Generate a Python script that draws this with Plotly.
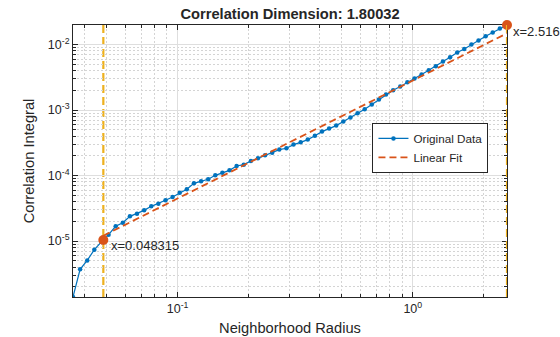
import numpy as np
import plotly.graph_objects as go

# ---- data ----
radius = [0.03590, 0.03849, 0.04127, 0.04424, 0.04743, 0.05086, 0.05453, 0.05846,
          0.06268, 0.06720, 0.07205, 0.07725, 0.08282, 0.08879, 0.09520, 0.1021,
          0.1094, 0.1173, 0.1258, 0.1349, 0.1446, 0.1550, 0.1662, 0.1782, 0.1911,
          0.2049, 0.2196, 0.2355, 0.2525, 0.2707, 0.2902, 0.3111, 0.3336, 0.3577,
          0.3835, 0.4111, 0.4408, 0.4726, 0.5067, 0.5432, 0.5824, 0.6244, 0.6695,
          0.7178, 0.7695, 0.8251, 0.8846, 0.9484, 1.017, 1.090, 1.169, 1.253,
          1.344, 1.441, 1.545, 1.656, 1.776, 1.904, 2.041, 2.188, 2.346, 2.516]

corr_integral = [1.40e-6, 3.70e-6, 5.07e-6, 7.39e-6, 9.73e-6, 1.253e-5, 1.679e-5, 1.910e-5,
                 2.384e-5, 2.624e-5, 2.944e-5, 3.39e-5, 3.73e-5, 4.19e-5, 4.70e-5, 5.45e-5,
                 6.17e-5, 7.61e-5, 8.17e-5, 8.77e-5, 1.009e-4, 1.109e-4, 1.202e-4, 1.399e-4,
                 1.469e-4, 1.667e-4, 1.833e-4, 2.04e-4, 2.24e-4, 2.49e-4, 2.61e-4, 2.97e-4,
                 3.22e-4, 3.54e-4, 4.07e-4, 4.69e-4, 5.21e-4, 5.79e-4, 6.67e-4, 7.67e-4,
                 8.93e-4, 1.028e-3, 1.213e-3, 1.445e-3, 1.723e-3, 2.004e-3, 2.283e-3, 2.655e-3,
                 3.027e-3, 3.48e-3, 4.05e-3, 4.66e-3, 5.50e-3, 6.40e-3, 7.55e-3, 8.57e-3,
                 1.00e-2, 1.151e-2, 1.340e-2, 1.524e-2, 1.753e-2, 1.99e-2]

fit_range = [0.048315, 2.516]
fit_labels = ["x=0.048315", "x=2.516"]
fit_slope = 1.80032
fit_intercept = -2.549  # log10 intercept

x_tick_vals = [0.1, 1]
x_tick_text = ["10<sup>-1</sup>", "10<sup>0</sup>"]
y_tick_vals = [1e-5, 1e-4, 1e-3, 1e-2]
y_tick_text = ["10<sup>-5</sup>", "10<sup>-4</sup>", "10<sup>-3</sup>", "10<sup>-2</sup>"]

title_text = "Correlation Dimension: 1.80032"

# ---- derived ----
lr = np.log10(radius)
lc = np.log10(corr_integral)
fit_x = np.array(fit_range)
fit_y = 10 ** (fit_intercept + fit_slope * np.log10(fit_x))
mark_y = 10 ** np.interp(np.log10(fit_x), lr, lc)
eps = 1e-6

BLUE = "#0072BD"
ORANGE = "#D95319"
YELLOW = "#EDB120"
TXT = "#262626"
FONT = "Arial, Liberation Sans, sans-serif"

fig = go.Figure()
fig.add_trace(go.Scatter(x=radius, y=corr_integral, mode="lines+markers",
                         name="Original Data",
                         line=dict(color=BLUE, width=1.2),
                         marker=dict(color=BLUE, size=4.5)))
fig.add_trace(go.Scatter(x=fit_x, y=fit_y, mode="lines", name="Linear Fit",
                         line=dict(color=ORANGE, width=1.8, dash="7px,4px")))
fig.add_trace(go.Scatter(x=fit_x, y=mark_y, mode="markers", showlegend=False,
                         marker=dict(color=ORANGE, size=10), cliponaxis=False))

for i, xv in enumerate(fit_range):
    fig.add_shape(type="line", xref="x", yref="paper", x0=xv, x1=xv, y0=0, y1=1,
                  line=dict(color=YELLOW, width=2.2, dash="8px,4px"),
                  layer="below" if i == 0 else "above")

for i, (xv, yv, lab) in enumerate(zip(fit_x, mark_y, fit_labels)):
    fig.add_annotation(x=np.log10(xv), y=np.log10(yv), text=lab, showarrow=False,
                       xanchor="left", yanchor="middle", xshift=6 if i == 0 else 4, yshift=-6,
                       font=dict(family=FONT, size=13, color=TXT))

axis_common = dict(
    type="log", showline=True, linecolor=TXT, linewidth=1, mirror="allticks",
    ticks="inside", ticklen=5, tickcolor=TXT, tickmode="array", layer="below traces",
    showgrid=True, gridcolor="#dedede", gridwidth=1, zeroline=False, automargin=False,
    tickfont=dict(family=FONT, size=12.5, color=TXT),
    minor=dict(ticks="inside", ticklen=3, tickcolor=TXT, dtick="D1",
               showgrid=True, gridcolor="#d4d4d4", griddash="2px,2px", gridwidth=1),
)

fig.update_layout(
    width=560, height=337, autosize=False,
    margin=dict(l=73, r=53, t=25, b=40),
    paper_bgcolor="white", plot_bgcolor="white",
    font=dict(family=FONT, color=TXT),
    title=dict(text="<b>" + title_text + "</b>", x=0.518, xanchor="center",
               y=1 - 14 / 337, yanchor="middle", font=dict(size=14.67, color=TXT)),
    xaxis=dict(axis_common, range=[lr[0] - eps, lr[-1] + eps], tickvals=x_tick_vals,
               ticktext=x_tick_text,
               title=dict(text="Neighborhood Radius", font=dict(size=14.67, color=TXT), standoff=7)),
    yaxis=dict(axis_common, range=[lc[0] - eps, lc[-1] + eps], tickvals=y_tick_vals,
               ticktext=y_tick_text,
               title=dict(text="Correlation Integral", font=dict(size=14.67, color=TXT), standoff=9)),
    legend=dict(x=0.69, y=0.64, xanchor="left", yanchor="top",
                bgcolor="white", bordercolor=TXT, borderwidth=1,
                font=dict(family=FONT, size=11.7, color=TXT),
                tracegroupgap=0, itemwidth=30),
    showlegend=True,
)

fig.write_html("out.html")
